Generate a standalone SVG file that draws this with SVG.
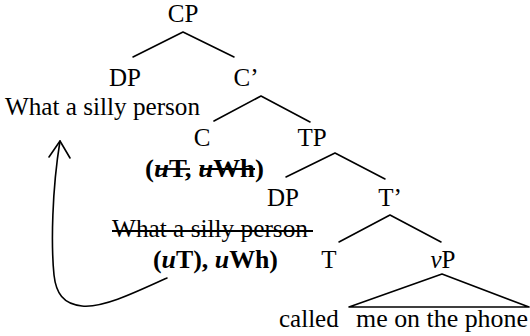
<svg xmlns="http://www.w3.org/2000/svg" width="530" height="336" viewBox="0 0 530 336">
  <style>
    text { font-size: 25px; fill: #000; }
    .mid { text-anchor: middle; }
    .b { font-weight: bold; }
    .i { font-style: italic; }
    .edge { stroke: #000; stroke-width: 1.6; fill: none; stroke-linecap: round; stroke-linejoin: round; }
    .strike { stroke: #000; stroke-width: 1.8; }
  </style>

  <!-- tree branches -->
  <g id="connectors">
    <polyline class="edge" points="133,57 183,32 234,57"/>
    <polyline class="edge" points="214,121 261,96 310,122"/>
    <polyline class="edge" points="286,177 335,153 385,179"/>
    <polyline class="edge" points="339,242 390,215 441,242"/>
    <polygon class="edge" points="349,307 442,274 529,307"/>
    <!-- movement arrow back to the specifier of CP -->
    <path class="edge" d="M167,278 C130,295 102,308 82,306 C63,304 56,293 54,275 C51,245 52,190 60,141"/>
    <polyline class="edge" points="49,157 60,141 70,158"/>
  </g>

  <g font-family="Liberation Serif, Times New Roman, Times, Tinos, Noto Serif, DejaVu Serif, serif">
    <g id="cp"><text class="mid" x="183" y="22">CP</text></g>
    <g id="dp-spec">
      <text class="mid" x="125" y="86">DP</text>
      <text x="5" y="115" textLength="195" lengthAdjust="spacingAndGlyphs">What a silly person</text>
    </g>
    <g id="c-bar"><text class="mid" x="246" y="86">C’</text></g>
    <g id="c-head">
      <text class="mid" x="202" y="146">C</text>
      <text class="b" x="145" y="177" textLength="119" lengthAdjust="spacingAndGlyphs">(<tspan class="i">u</tspan>T, <tspan class="i">u</tspan>Wh)</text>
      <line class="strike" x1="159" y1="169" x2="190" y2="169"/>
      <line class="strike" x1="200" y1="169" x2="255" y2="169"/>
    </g>
    <g id="tp"><text class="mid" x="312" y="146">TP</text></g>
    <g id="dp-lower">
      <text class="mid" x="283" y="206">DP</text>
      <text x="112" y="237" textLength="196" lengthAdjust="spacingAndGlyphs">What a silly person</text>
      <line class="strike" x1="112" y1="231" x2="313" y2="231"/>
      <text class="b" x="153" y="268" textLength="125" lengthAdjust="spacingAndGlyphs">(<tspan class="i">u</tspan>T), <tspan class="i">u</tspan>Wh)</text>
    </g>
    <g id="t-bar"><text class="mid" x="390" y="206">T’</text></g>
    <g id="t-head"><text class="mid" x="329" y="268">T</text></g>
    <g id="vp">
      <text class="mid" x="443" y="268"><tspan class="i">v</tspan>P</text>
      <text x="279" y="327">called</text>
      <text x="356" y="327" textLength="172" lengthAdjust="spacingAndGlyphs">me on the phone</text>
    </g>
  </g>
</svg>
